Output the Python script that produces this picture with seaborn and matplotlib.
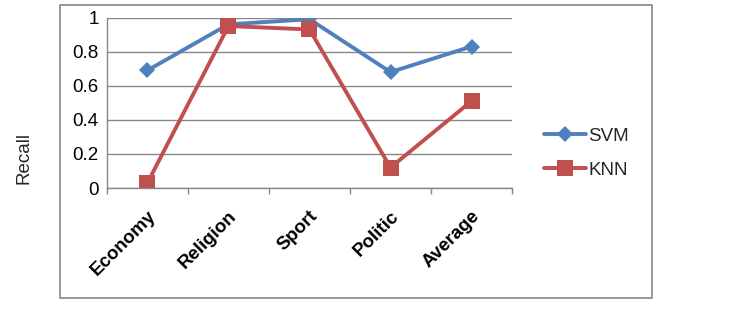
import matplotlib
matplotlib.use("Agg")
import matplotlib.pyplot as plt
from matplotlib.patches import Rectangle
from matplotlib.ticker import FixedLocator, NullFormatter
from matplotlib.lines import Line2D
import seaborn as sns
import pandas as pd

categories = ["Economy", "Religion", "Sport", "Politic", "Average"]
svm_recall = [0.69, 0.96, 0.99, 0.68, 0.83]
knn_recall = [0.03, 0.95, 0.93, 0.12, 0.51]
series_names = ["SVM", "KNN"]
y_ticks = [0, 0.2, 0.4, 0.6, 0.8, 1]
y_tick_labels = ["0", "0.2", "0.4", "0.6", "0.8", "1"]

df = pd.DataFrame({
    "Category": categories * 2,
    "Recall": svm_recall + knn_recall,
    "Model": [series_names[0]] * len(categories) + [series_names[1]] * len(categories),
})

sns.set_theme(style="white")
plt.rcParams["font.family"] = ["Liberation Sans", "DejaVu Sans"]

fig = plt.figure(figsize=(7.53, 3.10), dpi=100)
ax = fig.add_axes([0.142, 0.3935, 0.538, 0.55])

palette = {"SVM": "#4F81BD", "KNN": "#C0504D"}
sns.lineplot(data=df, x="Category", y="Recall", hue="Model", style="Model",
             markers={"SVM": "D", "KNN": "s"}, dashes=False, palette=palette,
             linewidth=2.8, markersize=9, markeredgewidth=0, sort=False, ax=ax,
             legend=False)
for line in ax.get_lines():
    if line.get_marker() == "s":
        line.set_markersize(11)
    if line.get_marker() == "D":
        line.set_markersize(8)

ax.set_xlim(-0.5, len(categories) - 0.5)
ax.set_ylim(0, 1)
ax.set_yticks(y_ticks)
ax.set_yticklabels(y_tick_labels, fontsize=13.5, color="black")
ax.tick_params(axis="y", length=0, pad=6)
ax.yaxis.grid(True, color="#878787", linewidth=1)
ax.set_axisbelow(True)

ax.set_xticks(range(len(categories)))
ax.set_xticklabels(categories, rotation=45, ha="right", rotation_mode="anchor",
                   fontsize=13.5, fontweight="bold", color="black")
ax.tick_params(axis="x", which="major", length=0, pad=14)
ax.xaxis.set_minor_locator(FixedLocator([i - 0.5 for i in range(len(categories) + 1)]))
ax.xaxis.set_minor_formatter(NullFormatter())
ax.tick_params(axis="x", which="minor", length=4, color="#878787", width=1, direction="out", bottom=True)

for s in ["top", "right"]:
    ax.spines[s].set_visible(False)
for s in ["left", "bottom"]:
    ax.spines[s].set_color("#878787")
    ax.spines[s].set_linewidth(1)

ax.set_xlabel("")
ax.set_ylabel("")
fig.text(0.032, 0.49, "Recall", rotation=90, fontsize=13.5, ha="center", va="center")

handles = [
    Line2D([], [], color=palette["SVM"], marker="D", markersize=8, linewidth=2.8, markeredgewidth=0),
    Line2D([], [], color=palette["KNN"], marker="s", markersize=11, linewidth=2.8, markeredgewidth=0),
]
fig.legend(handles, series_names, loc="center left", bbox_to_anchor=(0.723, 0.505),
           frameon=False, fontsize=13.5, handlelength=2.2, handletextpad=0.15,
           labelspacing=0.9, borderpad=0, borderaxespad=0)

fig.patches.append(Rectangle((0.0797, 0.0387), 0.786, 0.945, transform=fig.transFigure,
                             fill=False, edgecolor="#878787", linewidth=1.2))

fig.savefig("out.png", dpi=100)
